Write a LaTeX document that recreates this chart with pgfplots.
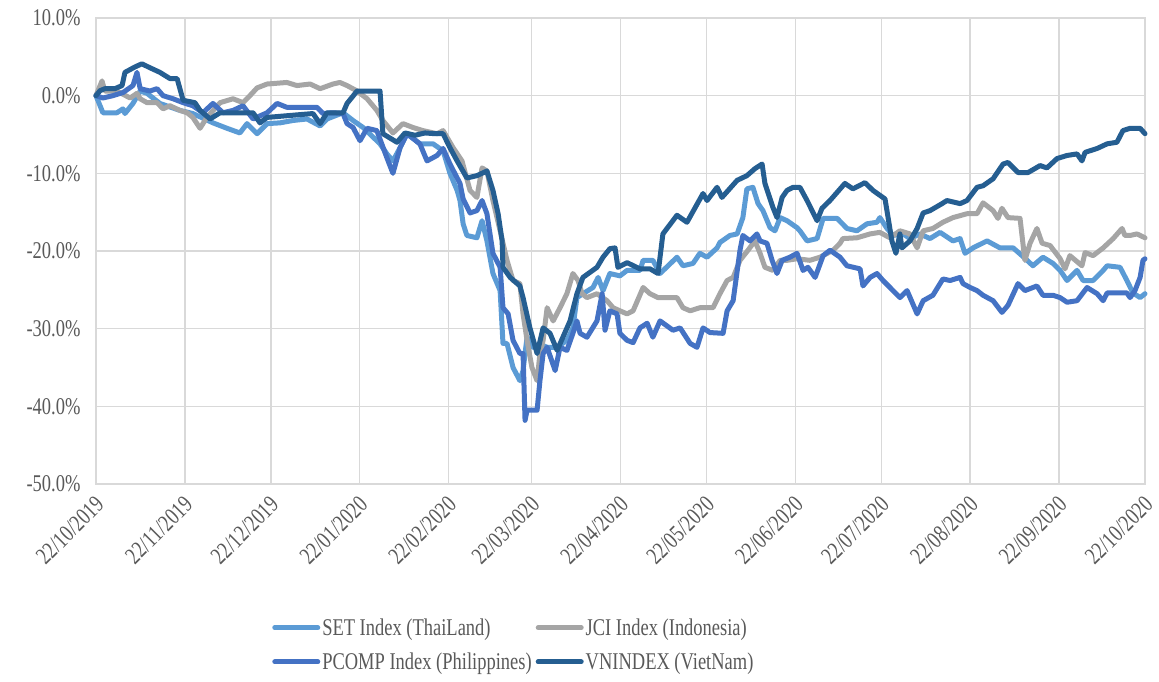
\documentclass[border=0pt]{standalone}
\usepackage{fontspec}
\setmainfont{Liberation Serif}[FakeStretch=0.77]
\usepackage{pgfplots}
\pgfplotsset{compat=1.18}
\definecolor{cSET}{HTML}{5B9BD5}
\definecolor{cJCI}{HTML}{A5A5A5}
\definecolor{cPCOMP}{HTML}{4472C4}
\definecolor{cVN}{HTML}{255E91}
\definecolor{gridc}{HTML}{D9D9D9}
\definecolor{labc}{HTML}{595959}
\begin{document}
\begin{tikzpicture}
\path[use as bounding box] (-96pt,-198pt) rectangle ++(1159pt,682pt);
\begin{axis}[at={(0pt,0pt)}, anchor=south west, scale only axis, width=1049pt, height=466pt,
 xmin=0, xmax=366, ymin=-50, ymax=10,
 xtick={0,31,61,92,123,152,183,213,244,274,305,336,366},
 xticklabels={22/10/2019,22/11/2019,22/12/2019,22/01/2020,22/02/2020,22/03/2020,22/04/2020,22/05/2020,22/06/2020,22/07/2020,22/08/2020,22/09/2020,22/10/2020},
 ytick={-50,-40,-30,-20,-10,0,10},
 yticklabels={-50.0\%,-40.0\%,-30.0\%,-20.0\%,-10.0\%,0.0\%,10.0\%},
 grid=major, major grid style={draw=gridc, line width=1.5pt},
 axis line style={draw=gridc, line width=1.5pt},
 major tick length=0pt,
 tick label style={font=\fontsize{24}{28}\selectfont, text=labc},
 yticklabel style={anchor=east, xshift=-12pt},
 xticklabel style={rotate=45, anchor=north east, inner sep=2pt, xshift=-7pt, yshift=-4pt},
 clip=false,
 legend columns=2,
 legend cell align=left,
 legend style={at={(0.165,-0.28)}, anchor=north west, draw=none, fill=none,
   font=\fontsize{24}{28}\selectfont, text=labc, row sep=12pt,
   /tikz/every even column/.append style={column sep=2pt}},
 legend image code/.code={\draw[line width=5pt, line cap=round] (0pt,0pt) -- (43pt,0pt);},
 every axis plot/.append style={line width=5pt, line join=round, line cap=round},
]
\addplot[cSET] coordinates {
(0,0) (2.4,-2.2) (7.3,-2.2) (9.4,-1.7) (10.1,-2.3) (12.9,-1.0) (15.4,0.6) (17.8,0.3) (22.3,-1.0) (29.3,-1.9) (33.8,-2.3) (40.8,-3.5) (45.7,-4.2) (50.2,-4.8) (52.7,-3.6) (56.2,-4.9) (59.7,-3.6) (64.2,-3.5) (68.7,-3.2) (73.6,-3.0) (78.2,-3.9) (80.6,-3.0) (86.2,-2.2) (89.7,-3.2) (93.2,-4.1) (99.1,-6.2) (101.5,-7.5) (103.6,-8.4) (106.1,-6.7) (108.5,-4.9) (110.6,-5.5) (113.0,-6.2) (117.6,-6.2) (121.1,-7.1) (123.5,-10.0) (126.0,-12.2) (127.0,-13.5) (128.1,-16.5) (129.4,-18.0) (132.9,-18.3) (134.7,-16.1) (136.4,-18.7) (138.5,-22.9) (141.0,-25.1) (142.0,-31.9) (143.4,-31.9) (145.5,-35.0) (147.9,-36.7) (149.0,-35.4) (149.7,-33.2) (150.4,-31.1) (152.5,-32.4) (154.9,-32.0) (157.4,-32.4) (160.9,-32.4) (164.3,-31.5) (166.4,-29.9) (167.8,-26.0) (169.9,-25.5) (173.4,-24.7) (175.2,-23.4) (176.9,-25.1) (179.3,-22.9) (182.8,-23.2) (185.3,-22.5) (189.8,-22.5) (190.9,-21.2) (194.3,-21.2) (196.8,-22.9) (202.7,-20.8) (204.8,-21.9) (208.3,-21.6) (210.7,-20.3) (213.2,-20.8) (216.7,-19.6) (217.7,-18.9) (221.2,-18.0) (223.7,-17.8) (225.7,-15.7) (227.1,-12.0) (229.2,-11.8) (231.0,-13.9) (232.7,-14.8) (235.2,-17.0) (236.9,-17.4) (238.7,-15.7) (241.1,-16.1) (244.6,-17.0) (245.6,-17.4) (248.1,-18.7) (251.6,-18.4) (253.7,-15.8) (258.6,-15.8) (262.0,-17.1) (265.5,-17.4) (269.0,-16.5) (272.5,-16.3) (273.5,-15.7) (276.0,-17.1) (278.1,-18.0) (281.6,-17.8) (284.0,-18.4) (287.5,-17.8) (291.0,-18.4) (294.5,-17.6) (299.0,-18.7) (301.5,-18.4) (303.2,-20.3) (306.0,-19.6) (310.9,-18.7) (315.4,-19.6) (320.0,-19.6) (323.1,-20.6) (326.9,-21.9) (330.4,-20.8) (333.9,-21.6) (336.4,-22.5) (338.8,-23.8) (342.3,-22.5) (344.4,-23.8) (347.9,-23.8) (351.4,-22.5) (352.8,-21.9) (357.3,-22.1) (359.7,-23.8) (361.8,-25.4) (364.3,-26.0) (366.0,-25.5)
};
\addlegendentry{SET Index (ThaiLand)}
\addplot[cJCI] coordinates {
(0,0) (2.1,1.9) (3.1,0.6) (7.3,0.6) (11.9,-0.3) (14.3,0.3) (15.4,-0.4) (17.8,-0.9) (21.3,-0.9) (23.4,-1.7) (25.8,-1.3) (29.3,-1.9) (31.8,-2.2) (33.8,-2.8) (36.3,-4.2) (38.7,-2.8) (43.3,-0.9) (47.8,-0.4) (51.3,-0.9) (53.7,0) (56.2,1.0) (59.7,1.5) (66.6,1.7) (70.1,1.3) (74.7,1.5) (78.2,0.9) (82.7,1.5) (85.1,1.7) (87.6,1.3) (91.1,0.6) (94.6,-0.4) (98.0,-1.9) (100.1,-3.2) (103.6,-4.8) (107.1,-3.6) (110.6,-4.1) (114.1,-4.5) (119.0,-4.9) (121.1,-4.5) (124.6,-6.7) (127.7,-8.4) (130.5,-12.2) (132.9,-13.1) (134.7,-9.3) (136.4,-9.7) (138.5,-13.5) (141.0,-17.4) (143.4,-21.2) (145.5,-23.8) (147.9,-24.2) (149.0,-28.1) (150.4,-31.5) (152.1,-35.0) (153.9,-36.7) (154.9,-33.2) (156.0,-31.5) (157.4,-27.3) (159.5,-29.0) (161.9,-27.3) (164.3,-25.5) (166.4,-22.9) (168.2,-23.8) (169.6,-25.5) (171.3,-26.0) (174.8,-25.5) (178.3,-26.4) (180.4,-27.3) (182.8,-27.7) (185.3,-28.1) (187.4,-27.7) (190.9,-24.7) (193.3,-25.5) (196.1,-26.0) (199.2,-26.0) (202.7,-26.0) (204.8,-27.3) (207.3,-27.7) (210.7,-27.3) (215.3,-27.3) (217.7,-25.5) (220.2,-23.8) (222.3,-23.4) (224.7,-21.2) (227.5,-19.9) (229.9,-18.7) (231.7,-20.3) (233.4,-22.1) (236.2,-22.5) (238.7,-21.2) (241.1,-21.2) (244.6,-21.0) (249.1,-21.2) (252.6,-20.8) (257.2,-19.9) (259.6,-19.0) (260.6,-18.4) (265.5,-18.3) (270.1,-17.8) (273.5,-17.6) (277.0,-18.3) (280.5,-17.4) (284.0,-17.8) (286.5,-19.6) (288.6,-17.4) (292.0,-17.1) (295.5,-16.3) (299.0,-15.7) (303.9,-15.2) (307.4,-15.2) (309.5,-13.8) (313.0,-14.8) (314.7,-15.8) (316.1,-14.5) (318.2,-15.7) (322.4,-15.8) (324.1,-21.2) (325.9,-19.0) (328.3,-17.1) (330.1,-19.0) (332.9,-19.3) (336.4,-21.0) (338.1,-22.3) (339.8,-20.6) (344.0,-21.9) (345.1,-20.2) (347.9,-20.6) (351.4,-19.6) (354.9,-18.4) (358.0,-17.1) (359.0,-18.0) (360.8,-18.0) (363.2,-17.8) (366.0,-18.3)
};
\addlegendentry{JCI Index (Indonesia)}
\addplot[cPCOMP] coordinates {
(0,0) (2.4,-0.3) (5.9,0) (9.4,0.4) (12.9,1.3) (14.3,3.0) (15.4,0.9) (18.8,0.6) (21.3,0.9) (23.4,0) (26.9,-0.4) (30.4,-0.9) (33.8,-1.3) (37.3,-2.2) (40.8,-1.0) (44.3,-2.2) (47.8,-1.9) (51.3,-1.3) (54.8,-3.0) (59.7,-2.2) (63.2,-1.0) (66.6,-1.5) (71.2,-1.5) (77.1,-1.5) (79.2,-2.3) (82.7,-2.2) (86.2,-2.3) (87.6,-3.6) (89.7,-4.1) (92.1,-5.8) (94.6,-4.2) (98.0,-4.5) (101.5,-8.0) (103.6,-10.0) (106.1,-6.7) (108.5,-4.9) (110.6,-5.5) (113.0,-6.2) (115.5,-8.4) (119.0,-7.7) (121.1,-6.8) (123.5,-8.8) (127.0,-11.3) (128.1,-13.3) (130.5,-15.1) (132.9,-14.8) (134.7,-13.5) (136.4,-15.2) (138.5,-20.3) (141.0,-22.1) (142.0,-27.3) (143.8,-28.1) (145.5,-31.5) (147.9,-33.2) (149.0,-33.2) (149.7,-41.8) (150.4,-40.5) (153.9,-40.5) (154.9,-36.7) (156.0,-33.2) (157.4,-32.4) (160.2,-35.4) (161.9,-32.4) (164.3,-32.8) (166.4,-30.6) (167.8,-29.0) (168.9,-30.6) (171.3,-31.1) (174.8,-29.0) (176.6,-25.5) (177.6,-30.2) (179.3,-27.7) (181.8,-28.1) (182.8,-30.6) (185.3,-31.5) (187.4,-31.8) (189.8,-29.9) (192.3,-29.3) (194.3,-31.1) (196.8,-29.0) (201.3,-30.2) (203.8,-29.9) (207.3,-31.9) (209.7,-32.4) (211.8,-29.9) (214.2,-30.5) (218.8,-30.6) (220.2,-27.7) (222.3,-26.4) (224.7,-19.9) (225.7,-18.0) (228.2,-18.7) (230.6,-17.8) (231.7,-18.7) (234.1,-19.0) (235.9,-21.2) (237.6,-22.9) (239.4,-21.2) (242.1,-20.8) (244.6,-20.3) (246.7,-22.5) (248.4,-22.1) (250.9,-23.4) (253.7,-20.6) (256.1,-19.9) (259.6,-20.8) (262.0,-21.9) (266.6,-22.3) (267.6,-24.5) (270.1,-23.4) (272.5,-22.9) (274.6,-23.8) (278.1,-25.1) (280.5,-26.0) (283.0,-25.1) (286.5,-28.1) (288.6,-26.4) (292.0,-25.7) (295.5,-23.6) (298.0,-23.8) (301.5,-23.4) (302.5,-24.2) (305.0,-24.7) (307.4,-25.1) (309.5,-25.7) (313.0,-26.4) (316.1,-27.9) (318.2,-27.0) (321.7,-24.2) (324.1,-25.1) (328.3,-24.5) (330.4,-25.7) (333.9,-25.7) (336.4,-26.0) (338.8,-26.6) (342.3,-26.4) (345.8,-24.7) (349.3,-25.5) (351.4,-26.4) (352.8,-25.4) (357.3,-25.4) (359.7,-25.4) (360.8,-26.0) (362.5,-25.1) (364.3,-23.4) (365.3,-21.2) (366.0,-21.0)
};
\addlegendentry{PCOMP Index (Philippines)}
\addplot[cVN] coordinates {
(0,0) (1.4,0.64) (3.1,0.9) (6.6,0.9) (9.1,1.3) (10.1,3.0) (13.6,3.7) (16.0,4.1) (18.8,3.6) (22.3,3.0) (25.8,2.2) (28.3,2.2) (30.4,-0.6) (34.5,-0.9) (36.3,-1.9) (39.8,-3.0) (43.3,-2.2) (54.8,-2.2) (57.2,-3.5) (59.7,-2.8) (75.7,-2.3) (78.2,-3.6) (80.6,-2.2) (86.2,-2.2) (87.6,-1.0) (91.1,0.6) (99.1,0.6) (100.1,-4.9) (105.0,-6.0) (107.8,-4.8) (111.3,-5.1) (114.8,-4.8) (118.3,-4.9) (121.1,-4.9) (123.5,-6.7) (126.0,-8.4) (129.4,-10.6) (132.9,-10.3) (136.4,-9.7) (138.5,-12.2) (140.3,-15.2) (141.7,-18.7) (142.0,-22.1) (144.5,-23.4) (147.9,-24.5) (149.0,-26.0) (151.4,-29.9) (153.9,-33.2) (156.0,-29.9) (158.4,-30.6) (160.9,-32.8) (162.9,-31.1) (165.4,-29.0) (167.8,-25.5) (169.9,-23.4) (174.8,-22.1) (176.9,-20.8) (179.3,-19.7) (181.1,-19.6) (182.1,-22.1) (185.3,-21.5) (189.8,-22.3) (193.3,-22.3) (196.1,-22.9) (197.8,-17.8) (202.7,-15.4) (206.2,-16.3) (211.8,-12.6) (213.2,-13.5) (216.7,-11.8) (218.4,-13.1) (223.7,-10.9) (227.1,-10.3) (229.9,-9.4) (232.4,-8.8) (233.4,-11.3) (236.2,-14.4) (237.6,-15.7) (239.4,-13.1) (241.1,-12.2) (243.2,-11.8) (245.6,-11.8) (248.1,-13.5) (251.6,-16.1) (253.3,-14.5) (256.1,-13.5) (261.3,-11.3) (264.1,-12.0) (268.3,-11.2) (271.1,-12.2) (275.3,-13.3) (277.7,-18.7) (279.1,-20.3) (280.5,-17.8) (281.2,-19.6) (284.0,-18.7) (286.5,-17.1) (288.6,-15.1) (291.0,-14.8) (295.2,-13.9) (296.9,-13.5) (301.5,-13.9) (303.9,-13.5) (307.4,-11.8) (309.5,-11.6) (313.0,-10.7) (316.5,-8.8) (318.2,-8.6) (321.7,-9.9) (325.2,-9.9) (329.4,-9.0) (331.8,-9.3) (335.3,-8.1) (338.8,-7.7) (342.3,-7.5) (344.0,-8.4) (345.1,-7.3) (349.3,-6.8) (352.8,-6.2) (356.2,-6.0) (358.3,-4.5) (360.8,-4.2) (364.3,-4.2) (366.0,-4.9)
};
\addlegendentry{VNINDEX (VietNam)}
\end{axis}
\end{tikzpicture}
\end{document}
